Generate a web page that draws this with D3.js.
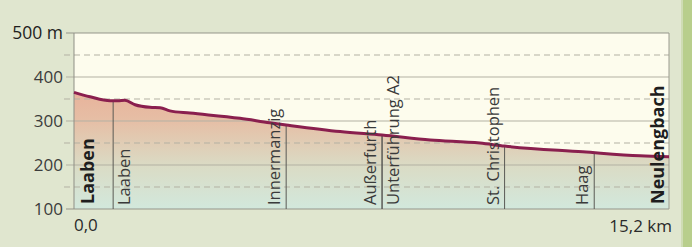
<!DOCTYPE html>
<html>
<head>
<meta charset="utf-8">
<script src="https://cdn.jsdelivr.net/npm/d3@7"></script>
<style>
  body { margin: 0; background: #e0e6cf; }
  svg { display: block; font-family: "Open Sans", sans-serif; }
</style>
</head>
<body>
<div id="chart"></div>
<script>
// profile data (km, elevation in m)
var km = [0, 0.41, 0.92, 1.12, 1.3, 1.56, 1.94, 2.2, 2.45, 2.96, 4.24, 5.0, 5.42, 6.8, 7.87, 9.1, 10.37, 11.0, 13.0, 14.46, 15.2];
var elevation = [365, 355, 346, 346, 347, 337, 331, 330, 323, 318, 306, 296, 291, 276, 268, 257, 250, 243, 230, 221, 219];

// waypoints along the route
var wpNames = ["Laaben", "Innermanzig", "Außerfurth", "Unterführung A2", "St. Christophen", "Haag"];
var wpKm = [1.0, 5.42, 7.87, 7.87, 11.0, 13.29];
var wpSide = ["right", "left", "left", "right", "left", "left"];

var yTicks = [100, 200, 300, 400, 500];
var yTickLabels = ["100", "200", "300", "400", "500 m"];
var dashTicks = [150, 250, 350, 450];
var xLabels = ["0,0", "15,2 km"];
var startName = "Laaben";
var endName = "Neulengbach";

var svgWidth = 692;
var svgHeight = 247;

var margin = { top: 33, right: 23, bottom: 38, left: 74 };
var width = svgWidth - margin.left - margin.right;
var height = svgHeight - margin.top - margin.bottom;

var svg = d3.select("#chart")
  .append("svg")
  .attr("width", svgWidth)
  .attr("height", svgHeight);

// background + green strip on right
svg.append("rect").attr("width", svgWidth).attr("height", svgHeight).attr("fill", "#e0e6cf");
svg.append("rect").attr("x", 683).attr("width", 9).attr("height", svgHeight).attr("fill", "#b8ce8c");
svg.append("rect").attr("x", 681).attr("width", 2).attr("height", svgHeight).attr("fill", "#cfdcb4");

var chartGroup = svg.append("g")
  .attr("transform", `translate(${margin.left}, ${margin.top})`);

var xScale = d3.scaleLinear().domain([0, 15.2]).range([0, width]);
var yScale = d3.scaleLinear().domain([100, 500]).range([height, 0]);

// gradient for area
var defs = svg.append("defs");
var grad = defs.append("linearGradient")
  .attr("id", "areaGrad")
  .attr("gradientUnits", "userSpaceOnUse")
  .attr("x1", 0).attr("x2", 0)
  .attr("y1", yScale(370)).attr("y2", yScale(100));
grad.append("stop").attr("offset", "0%").attr("stop-color", "#e8b29a");
grad.append("stop").attr("offset", "25%").attr("stop-color", "#e6bea5");
grad.append("stop").attr("offset", "45%").attr("stop-color", "#e0cdb5");
grad.append("stop").attr("offset", "65%").attr("stop-color", "#dadcc6");
grad.append("stop").attr("offset", "100%").attr("stop-color", "#d2e8dc");

// plot background
chartGroup.append("rect")
  .attr("width", width)
  .attr("height", height)
  .attr("fill", "#fdfced");

var profile = km.map((d, i) => ({ km: d, ele: elevation[i] }));

var area = d3.area()
  .x(d => xScale(d.km))
  .y0(height)
  .y1(d => yScale(d.ele))
  .curve(d3.curveMonotoneX);

chartGroup.append("path")
  .datum(profile)
  .attr("d", area)
  .attr("fill", "url(#areaGrad)");

// grid lines
chartGroup.selectAll("line.dash")
  .data(dashTicks)
  .enter()
  .append("line")
  .attr("x1", -10)
  .attr("x2", width)
  .attr("y1", d => yScale(d))
  .attr("y2", d => yScale(d))
  .attr("stroke", "#b3b1a3")
  .attr("stroke-dasharray", "6,4");

chartGroup.selectAll("line.grid")
  .data(yTicks)
  .enter()
  .append("line")
  .attr("x1", -8)
  .attr("x2", width)
  .attr("y1", d => yScale(d))
  .attr("y2", d => yScale(d))
  .attr("stroke", d => (d === 100 || d === 500) ? "#95958a" : "#b3b1a3")
  .attr("stroke-width", 1);

// frame
chartGroup.append("line").attr("x1", 0).attr("x2", 0).attr("y1", 0).attr("y2", height).attr("stroke", "#8f8f85");
chartGroup.append("line").attr("x1", width).attr("x2", width).attr("y1", 0).attr("y2", height).attr("stroke", "#9a9a8f");

// y labels
chartGroup.selectAll("text.ylab")
  .data(yTicks)
  .enter()
  .append("text")
  .attr("x", -11)
  .attr("y", d => yScale(d))
  .attr("dy", "0.35em")
  .attr("text-anchor", "end")
  .attr("font-size", d => d === 500 ? "17.5px" : "17px")
  .attr("fill", d => d === 500 ? "#1e1e1e" : "#3c3c3c")
  .text((d, i) => yTickLabels[i]);

// x labels
chartGroup.append("text")
  .attr("x", xScale(0)).attr("y", height + 22)
  .attr("font-size", "17px").attr("fill", "#2a2a2a")
  .text(xLabels[0]);
chartGroup.append("text")
  .attr("x", xScale(15.2) + 3).attr("y", height + 23)
  .attr("text-anchor", "end")
  .attr("font-size", "17px").attr("fill", "#2a2a2a")
  .text(xLabels[1]);

// waypoint lines up to profile
var eleAt = d3.scaleLinear().domain(km).range(elevation);

chartGroup.selectAll("line.wp")
  .data(wpKm)
  .enter()
  .append("line")
  .attr("x1", d => xScale(d))
  .attr("x2", d => xScale(d))
  .attr("y1", height)
  .attr("y2", d => yScale(eleAt(d)))
  .attr("stroke", "#5a5a55")
  .attr("stroke-width", 1);

// profile line
var line = d3.line()
  .x(d => xScale(d.km))
  .y(d => yScale(d.ele))
  .curve(d3.curveMonotoneX);

chartGroup.append("path")
  .datum(profile)
  .attr("d", line)
  .attr("fill", "none")
  .attr("stroke", "#8a1f4e")
  .attr("stroke-width", 3);

// waypoint labels
chartGroup.selectAll("text.wp")
  .data(wpNames)
  .enter()
  .append("text")
  .attr("transform", (d, i) => {
    var x = xScale(wpKm[i]) + (wpSide[i] === "left" ? -6 : 17);
    return `translate(${x}, ${height - 4}) rotate(-90)`;
  })
  .attr("font-size", "16.5px")
  .attr("fill", "#3a3a3a")
  .text(d => d);

// start and end
chartGroup.append("text")
  .attr("transform", `translate(${xScale(0) + 20}, ${height - 5}) rotate(-90)`)
  .attr("font-size", "18px").attr("font-weight", "bold").attr("fill", "#1e1e1e")
  .text(startName);
chartGroup.append("text")
  .attr("transform", `translate(${xScale(15.2) - 5}, ${height - 5}) rotate(-90)`)
  .attr("font-size", "18px").attr("font-weight", "bold").attr("fill", "#1e1e1e")
  .text(endName);
</script>
</body>
</html>
